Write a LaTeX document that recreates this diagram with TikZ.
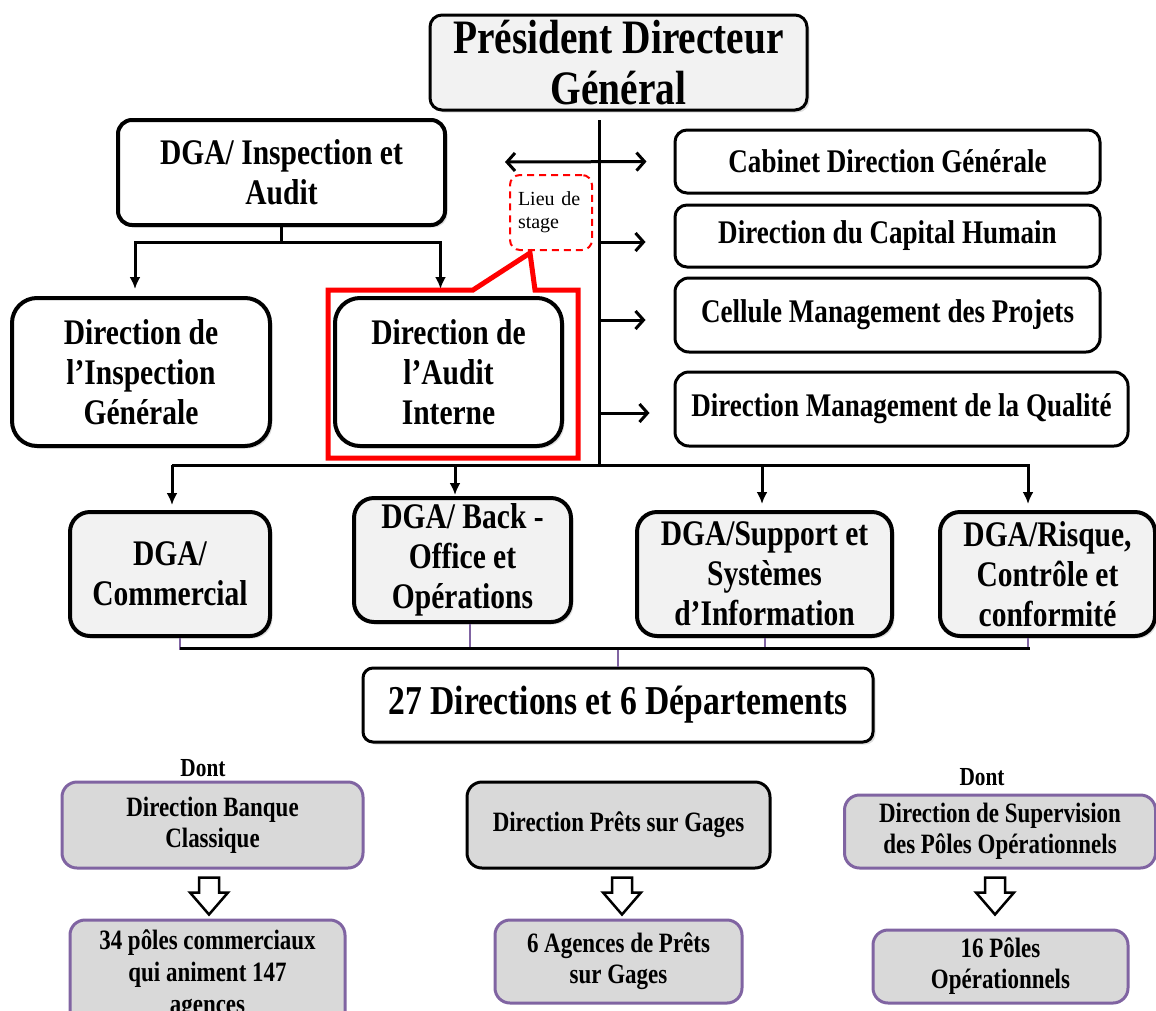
\documentclass[tikz,border=0pt]{standalone}
\usepackage{fontspec}
\setmainfont{Liberation Serif}
\newfontfamily\cond[FakeStretch=0.82]{Liberation Serif}
\usetikzlibrary{arrows.meta,calc,shadows}
\definecolor{pur}{HTML}{8064A2}
\definecolor{lg}{HTML}{F2F2F2}
\definecolor{mg}{HTML}{D9D9D9}
\newcommand\fsz[2]{\fontsize{#1}{#2}\selectfont}
\begin{document}
\begin{tikzpicture}[x=1pt,y=-1pt,
  box/.style={draw, rounded corners=#1, align=center, inner sep=0pt},
  shad/.style={drop shadow={shadow xshift=2.5pt,shadow yshift=-2.5pt,opacity=0.25}},
  big/.style={font=\cond\bfseries\fsz{36}{40}},
  mid/.style={font=\cond\bfseries\fsz{33}{36}},
  small/.style={font=\cond\bfseries\fsz{28}{31}},
  darr/.style={line width=3pt,-{Latex[length=12pt,width=11pt]}},
  rarr/.style={line width=3pt,-{Straight Barb[length=8pt,width=18pt]}},
  conn/.style={line width=3pt},
  ptick/.style={line width=2pt,pur},
  harrow/.pic={\draw[line width=2.5pt,fill=white] (-10,0) -- (10,0) -- (10,15) -- (19,15) -- (0,37) -- (-19,15) -- (-10,15) -- cycle;}
]
\useasboundingbox (0,0) rectangle (1156,1010);
\clip (0,0) rectangle (1156,1010);

% top
\node[box=12, fill=lg, line width=3pt, shad, minimum width=377, minimum height=95,
      font=\cond\bfseries\fsz{48}{51}] (pdg) at (618.5,62.5) {Président Directeur\\Général};
\node[box=14, fill=white, line width=4pt, shad, big, minimum width=327, minimum height=105] (insp) at (281.5,172.5) {DGA/ Inspection et\\Audit};
\node[box=25, fill=white, line width=4pt, shad, big, minimum width=258, minimum height=148] (dig) at (141,372) {Direction de\\l’Inspection\\Générale};
\node[box=25, fill=white, line width=4pt, shad, big, minimum width=227, minimum height=148] (dai) at (448.5,372) {Direction de\\l’Audit\\Interne};

% right column
\node[box=12, fill=white, line width=3pt, mid, minimum width=425, minimum height=63] (cab) at (887.5,161.5) {Cabinet Direction Générale};
\node[box=12, fill=white, line width=3pt, mid, minimum width=425, minimum height=62] (dch) at (887.5,236) {Direction du Capital Humain};
\node[box=14, fill=white, line width=3pt, mid, minimum width=425, minimum height=74] (cmp) at (887.5,315) {Cellule Management des Projets};
\node[box=14, fill=white, line width=3pt, mid, minimum width=453, minimum height=74] (dmq) at (901.5,409) {Direction Management de la Qualité};

% lieu de stage
\node[box=10, draw=red, dashed, dash pattern=on 7pt off 5pt, line width=2pt, align=left,
      font=\fsz{20}{23}, minimum width=82, minimum height=75, text width=66] (lieu) at (551,212.5) {Lieu de\\stage};

% spine
\coordinate (spT) at (599,120);
\coordinate (spB) at (599,465);
\coordinate (dl) at (505,162);
\draw[conn] (spT) -- (spB);
\draw[line width=3pt,{Straight Barb[length=8pt,width=18pt]}-{Straight Barb[length=8pt,width=18pt]}, shorten >=27pt] (dl) -- (cab.west);
\draw[rarr, shorten >=28pt] (spT |- dch.west) ++(0,6) -- ($(dch.west)+(0,6)$);
\draw[rarr, shorten >=28pt] (spT |- cmp.west) ++(0,5) -- ($(cmp.west)+(0,5)$);
\draw[rarr, shorten >=24pt] (spT |- dmq.west) ++(0,4) -- ($(dmq.west)+(0,4)$);

% DGA inspection children
\draw[darr, shorten >=7pt] (insp.south) -- ++(0,15) -| ($(dig.north)+(-6,0)$);
\draw[darr, shorten >=7pt] (insp.south) -- ++(0,15) -| ($(dai.north)+(-8,0)$);

% red callout
\coordinate (tip) at (530,253);
\draw[red, line width=5pt, line join=miter] (328,290) -- (473,290) -- (tip) -- (535,290) -- (578,290) -- (578,458) -- (328,458) -- cycle;

% DGA row
\node[box=20, fill=lg, line width=4pt, shad, big, minimum width=200, minimum height=124] (dgac) at (170,574) {DGA/\\Commercial};
\node[box=20, fill=lg, line width=4pt, shad, big, minimum width=217, minimum height=124] (dgab) at (462.5,560) {DGA/ Back -\\Office et\\Opérations};
\node[box=20, fill=lg, line width=4pt, shad, big, minimum width=255, minimum height=124] (dgas) at (764.5,574) {DGA/Support et\\Systèmes\\d’Information};
\node[box=20, fill=lg, line width=4pt, shad, big, minimum width=215, minimum height=124] (dgar) at (1047.5,574) {DGA/Risque,\\Contrôle et\\conformité};

\draw[conn] (172,465) -- (1030,465);
\draw[darr, shorten >=5pt] (172,465) -- ($(dgac.north)+(2,0)$);
\draw[darr, shorten >=1pt] (455,465) -- ($(dgab.north)+(-7.5,0)$);
\draw[darr, shorten >=6pt] (762,465) -- ($(dgas.north)+(-2.5,0)$);
\draw[darr, shorten >=6pt] (1028,465) -- ($(dgar.north)+(-19.5,0)$);

% 27 directions
\node[box=10, fill=white, line width=3pt, shad, minimum width=510, minimum height=74,
      font=\cond\bfseries\fsz{41}{44}] (d27) at (618,705) {27 Directions et 6 Départements};
\coordinate (bl) at (180,648);
\coordinate (br) at (1030,648);
\draw[ptick] ($(dgac.south)+(10,0)$) -- ($(dgac.south)+(10,12)$);
\draw[ptick] ($(dgab.south)+(7.5,0)$) -- ($(dgab.south)+(7.5,26)$);
\draw[ptick] ($(dgas.south)+(0.5,0)$) -- ($(dgas.south)+(0.5,12)$);
\draw[ptick] ($(dgar.south)+(-19.5,0)$) -- ($(dgar.south)+(-19.5,12)$);
\draw[ptick] (d27.north |- bl) -- (d27.north);
\draw[conn] (bl) -- (br);

% bottom
\node[font=\cond\bfseries\fsz{26}{28}] (dont1) at (203,768) {Dont};
\node[font=\cond\bfseries\fsz{26}{28}] (dont2) at (982,777) {Dont};
\node[box=15, fill=mg, draw=pur, line width=3pt, small, minimum width=301, minimum height=86] (dbc) at (212.5,825) {Direction Banque\\Classique};
\node[box=15, fill=mg, line width=3pt, small, minimum width=303, minimum height=86] (dpg) at (618.5,825) {Direction Prêts sur Gages};
\node[box=15, fill=mg, draw=pur, line width=3pt, small, minimum width=311, minimum height=73] (dsp) at (1000,831.5) {Direction de Supervision\\des Pôles Opérationnels};

\node[box=15, fill=mg, draw=pur, line width=3pt, font=\cond\bfseries\fsz{28}{32}, minimum width=275, minimum height=110] (p34) at (207.5,975) {34 pôles commerciaux\\qui animent 147\\agences};
\node[box=15, fill=mg, draw=pur, line width=3pt, small, minimum width=247, minimum height=83] (p6) at (618.5,961.5) {6 Agences de Prêts\\sur Gages};
\node[box=15, fill=mg, draw=pur, line width=3pt, small, minimum width=255, minimum height=73] (p16) at (1000.5,966.5) {16 Pôles\\Opérationnels};

\pic at ($(dbc.south)+(-3.5,8)$) {harrow};
\pic at ($(dpg.south)+(3.5,8)$) {harrow};
\pic at ($(dsp.south)+(-5,8)$) {harrow};
\end{tikzpicture}
\end{document}
